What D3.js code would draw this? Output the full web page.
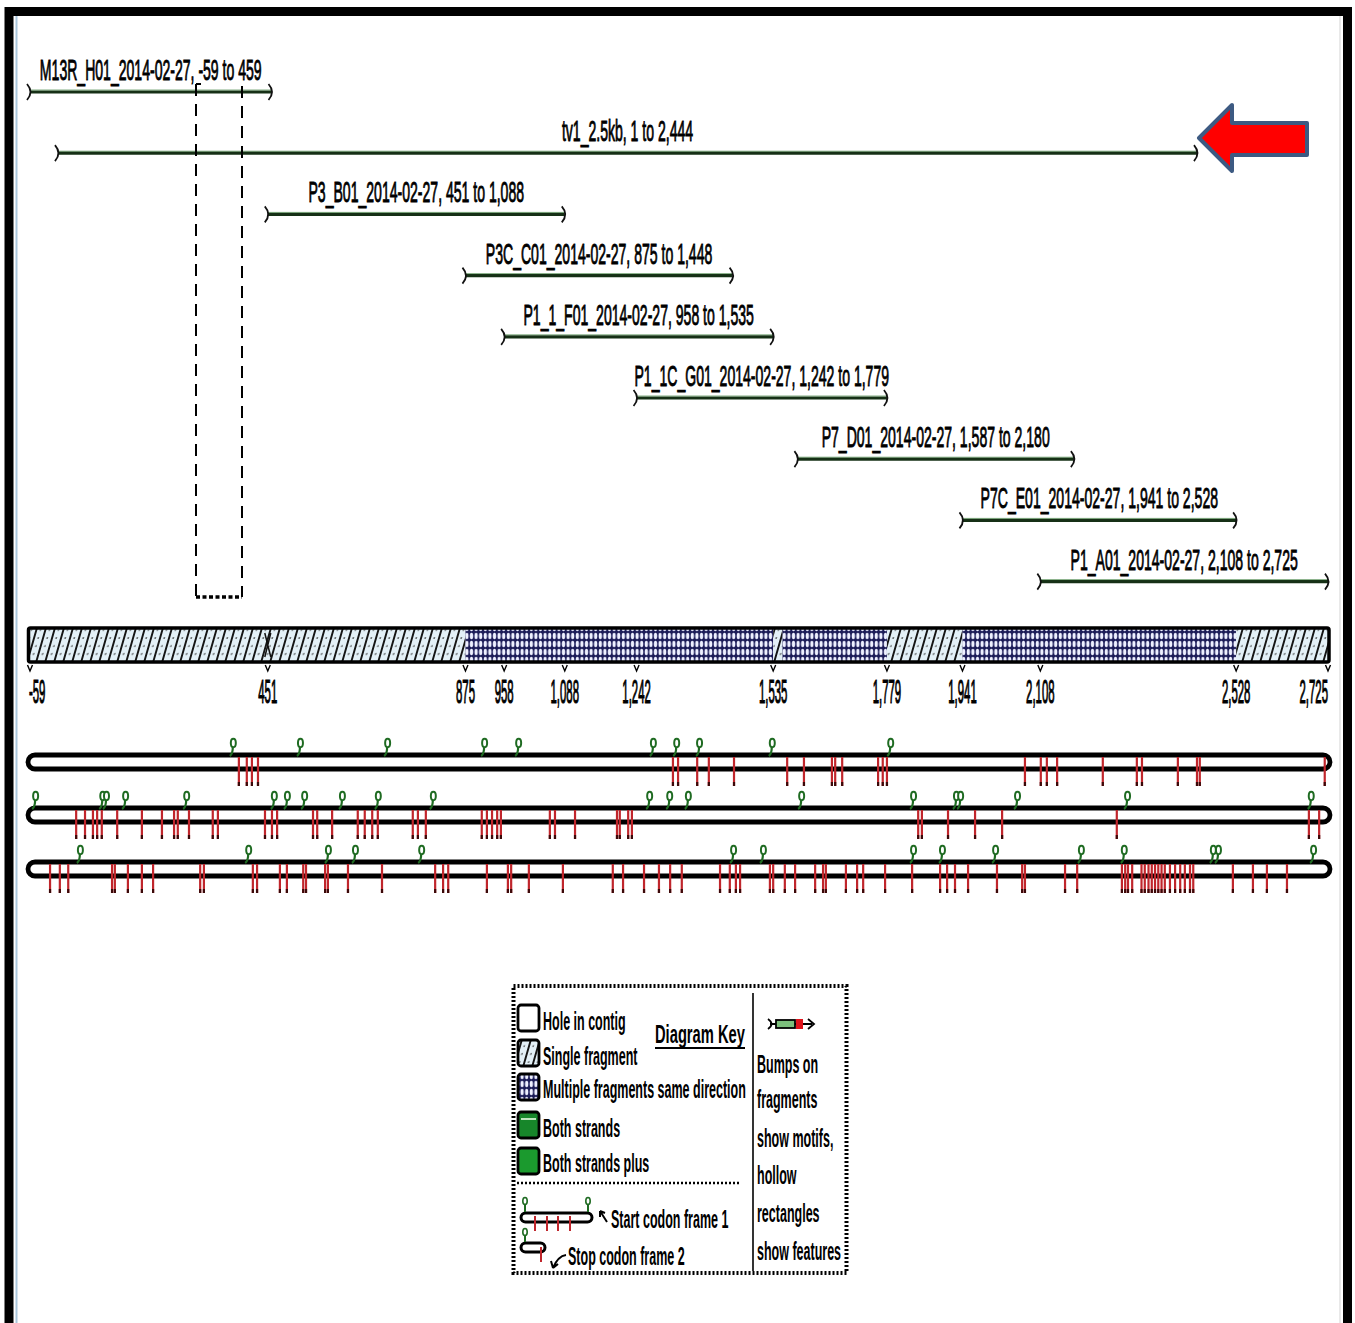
<!DOCTYPE html>
<html><head><meta charset="utf-8">
<script src="https://cdn.jsdelivr.net/npm/d3@7"></script>
<style>body{margin:0;background:#fff}svg{display:block}</style>
</head><body><svg id="c" width="1355" height="1323"></svg>
<script>
// ---------------- DATA ----------------
const fragLabels = [
  "M13R_H01_2014-02-27, -59 to 459",
  "tv1_2.5kb, 1 to 2,444",
  "P3_B01_2014-02-27, 451 to 1,088",
  "P3C_C01_2014-02-27, 875 to 1,448",
  "P1_1_F01_2014-02-27, 958 to 1,535",
  "P1_1C_G01_2014-02-27, 1,242 to 1,779",
  "P7_D01_2014-02-27, 1,587 to 2,180",
  "P7C_E01_2014-02-27, 1,941 to 2,528",
  "P1_A01_2014-02-27, 2,108 to 2,725"
];
const fragStart = [-59, 1, 451, 875, 958, 1242, 1587, 1941, 2108];
const fragEnd   = [459, 2444, 1088, 1448, 1535, 1779, 2180, 2528, 2725];

const covStart = [-59, 875, 1535, 1555, 1779, 1941, 2528];
const covEnd   = [875, 1535, 1555, 1779, 1941, 2528, 2725];
const covType  = ["single", "multi", "single", "multi", "single", "multi", "single"];

const tickValues = [-59, 451, 875, 958, 1088, 1242, 1535, 1779, 1941, 2108, 2528, 2725];
const tickLabels = ["-59", "451", "875", "958", "1,088", "1,242", "1,535", "1,779", "1,941", "2,108", "2,528", "2,725"];

const frame1Starts = [376, 520, 707, 915, 988, 1277, 1327, 1376, 1532, 1786];
const frame1Stops  = [389, 406, 417, 430, 1320, 1331, 1372, 1397, 1451, 1565, 1601, 1661, 1668, 1683,
                      1760, 1770, 1779, 2075, 2109, 2122, 2144, 2242, 2315, 2326, 2403, 2444, 2450, 2718];
const frame2Starts = [-48, 96, 104, 145, 276, 464, 492, 529, 610, 687, 805, 1269, 1312, 1352, 1595,
                      1835, 1927, 1936, 2058, 2294, 2688];
const frame2Stops  = [40, 59, 76, 85, 95, 128, 181, 224, 250, 258, 282, 333, 344, 445, 460, 471, 548, 557,
                      589, 644, 659, 675, 687, 762, 773, 790, 910, 921, 932, 943, 951, 1056, 1067, 1110,
                      1200, 1206, 1224, 1232, 1846, 1854, 1910, 1968, 2026, 2272, 2684, 2706];
const frame3Starts = [48, 409, 580, 638, 780, 1449, 1513, 1835, 1897, 2011, 2195, 2287, 2478, 2489, 2693];
const frame3Stops  = [-16, 5, 23, 117, 123, 151, 181, 205, 306, 314, 419, 428, 477, 492, 527, 533, 574, 580,
                      623, 696, 810, 827, 838, 921, 966, 973, 1011, 1084, 1191, 1213, 1258, 1290, 1314,
                      1339, 1421, 1442, 1455, 1464, 1528, 1535, 1560, 1582, 1625, 1642, 1648, 1691, 1715,
                      1728, 1775, 1833, 1893, 1908, 1925, 1953, 2015, 2069, 2075, 2161, 2187, 2283, 2290,
                      2296, 2305, 2325, 2332, 2340, 2347, 2354, 2361, 2368, 2375, 2386, 2397, 2408, 2418,
                      2429, 2436, 2521, 2564, 2594, 2637];

const legendLeft  = ["Hole in contig", "Single fragment", "Multiple fragments same direction", "Both strands", "Both strands plus"];
const legendRight = ["Bumps on", "fragments", "show motifs,", "hollow", "rectangles", "show features"];
const legendTitle = "Diagram Key";
const codonNotes  = ["Start codon frame 1", "Stop codon frame 2"];

// ---------------- SETUP ----------------
const svg = d3.select("#c");
const FONT = "'Liberation Sans Narrow','Liberation Sans',Arial,sans-serif";
const defs = svg.append("defs");

// single-fragment hatch
const ps = defs.append("pattern").attr("id", "single").attr("patternUnits", "userSpaceOnUse")
  .attr("width", 9).attr("height", 40).attr("patternTransform", "skewX(-16)");
ps.append("rect").attr("width", 9).attr("height", 40).attr("fill", "#e3f0f7");
ps.append("line").attr("x1", 1).attr("x2", 1).attr("y1", 0).attr("y2", 40).attr("stroke", "#151515").attr("stroke-width", 2);
[6, 14, 22, 30, 38].forEach(cy => ps.append("circle").attr("cx", 5.2).attr("cy", cy).attr("r", 0.8).attr("fill", "#333"));

// multiple-fragment crosshatch
const pm = defs.append("pattern").attr("id", "multi").attr("patternUnits", "userSpaceOnUse")
  .attr("width", 4.6).attr("height", 8);
pm.append("rect").attr("width", 4.6).attr("height", 8).attr("fill", "#1c1c58");
pm.append("ellipse").attr("cx", 2.3).attr("cy", 4).attr("rx", 1.6).attr("ry", 3.2).attr("fill", "#eef0ff");

function measure(str, size, weight) {
  const t = svg.append("text").attr("font-family", FONT).attr("font-size", size)
    .attr("font-weight", weight || "normal").text(str);
  const w = t.node().getComputedTextLength(); t.remove(); return w;
}
function ctext(parent, str, px, py, size, k, anchor, weight, sw) {
  const t = parent.append("text").attr("font-family", FONT).attr("font-size", size)
    .attr("font-weight", weight || "normal").attr("text-anchor", anchor || "start")
    .attr("fill", "#000")
    .attr("transform", `translate(${px},${py}) scale(${k},1)`).text(str);
  if (sw) t.attr("stroke", "#000").attr("stroke-width", sw);
  return t;
}

const x = d3.scaleLinear().domain([-59, 2725]).range([30, 1328]);

// ---------------- FRAME ----------------
svg.append("rect").attr("x", 0).attr("y", 0).attr("width", 1355).attr("height", 1323).attr("fill", "#fff");
svg.append("line").attr("x1", 16.5).attr("x2", 16.5).attr("y1", 16).attr("y2", 1323).attr("stroke", "#a9c6dc").attr("stroke-width", 2);
svg.append("line").attr("x1", 1340).attr("x2", 1340).attr("y1", 16).attr("y2", 1323).attr("stroke", "#e2e2e2").attr("stroke-width", 1.5);
svg.append("rect").attr("x", 9).attr("y", 11.5).attr("width", 1338.5).attr("height", 1400)
  .attr("fill", "none").attr("stroke", "#000").attr("stroke-width", 9);

// ---------------- FRAGMENTS ----------------
const gFrag = svg.append("g");
const fragSize = 29;
const kFrag = 222 / measure(fragLabels[0], fragSize);
const rowY = i => 92 + i * 61.2;
fragLabels.forEach((lab, i) => {
  const y = rowY(i), x0 = x(fragStart[i]), x1 = x(fragEnd[i]);
  gFrag.append("line").attr("x1", x0).attr("x2", x1).attr("y1", y).attr("y2", y)
    .attr("stroke", "#163016").attr("stroke-width", 3.2);
  gFrag.append("line").attr("x1", x0).attr("x2", x1).attr("y1", y - 2).attr("y2", y - 2)
    .attr("stroke", "#4f8a4f").attr("stroke-width", 1).attr("opacity", 0.7);
  [x0, x1].forEach(px => gFrag.append("path")
    .attr("d", `M${px - 3},${y - 8} Q${px + 4},${y} ${px - 3},${y + 8}`)
    .attr("fill", "none").attr("stroke", "#111").attr("stroke-width", 1.8));
  ctext(gFrag, lab, (x0 + x1) / 2, y - 12, fragSize, kFrag, "middle", "normal", 0.9);
});

// dashed selection box
const gBox = svg.append("g").attr("stroke", "#000").attr("fill", "none");
gBox.append("line").attr("x1", 196).attr("x2", 196).attr("y1", 84).attr("y2", 597)
  .attr("stroke-width", 2).attr("stroke-dasharray", "12,8");
gBox.append("line").attr("x1", 196).attr("x2", 201).attr("y1", 84).attr("y2", 84).attr("stroke-width", 2);
gBox.append("line").attr("x1", 242).attr("x2", 242).attr("y1", 86).attr("y2", 597)
  .attr("stroke-width", 2).attr("stroke-dasharray", "12,8");
gBox.append("line").attr("x1", 196).attr("x2", 242).attr("y1", 597).attr("y2", 597)
  .attr("stroke-width", 3.5).attr("stroke-dasharray", "4,2.5");

// red arrow
svg.append("path")
  .attr("d", "M1199,138 L1232,105 L1232,123 L1307,123 L1307,155 L1232,155 L1232,171 Z")
  .attr("fill", "#ff0000").attr("stroke", "#3d5a82").attr("stroke-width", 4).attr("stroke-linejoin", "round");

// ---------------- COVERAGE BAR ----------------
const gBar = svg.append("g");
covStart.forEach((s, i) => {
  gBar.append("rect").attr("x", x(s)).attr("y", 629).attr("width", x(covEnd[i]) - x(s)).attr("height", 32)
    .attr("fill", covType[i] === "single" ? "url(#single)" : "url(#multi)");
});
gBar.append("path").attr("d", `M${x(451) - 3},633 L${x(451) + 3},657 M${x(451) + 3},633 L${x(451) - 3},657`)
  .attr("stroke", "#111").attr("stroke-width", 1.5);
gBar.append("rect").attr("x", 28.5).attr("y", 628).attr("width", 1300.5).attr("height", 34).attr("rx", 2)
  .attr("fill", "none").attr("stroke", "#000").attr("stroke-width", 3.5);

// ticks & labels
const tickSize = 34;
const kTick = 19 / measure("451", tickSize);
tickValues.forEach((v, i) => {
  const px = x(v);
  gBar.append("path").attr("d", `M${px - 2.5},665 L${px},671 L${px + 2.5},665`)
    .attr("fill", "none").attr("stroke", "#000").attr("stroke-width", 1.4);
  const anchor = i === 0 ? "start" : (i === tickValues.length - 1 ? "end" : "middle");
  ctext(gBar, tickLabels[i], i === 0 ? px - 1 : px, 703, tickSize, kTick, "" + anchor, "normal", 1.2);
});

// ---------------- CODON TRACKS ----------------
const trackTop = [755, 808, 862];
const starts = [frame1Starts, frame2Starts, frame3Starts];
const stops = [frame1Stops, frame2Stops, frame3Stops];
const gCod = svg.append("g");
trackTop.forEach((top, r) => {
  gCod.append("rect").attr("x", 28).attr("y", top).attr("width", 1302).attr("height", 14).attr("rx", 7)
    .attr("fill", "#fff").attr("stroke", "#000").attr("stroke-width", 4.8);
  stops[r].forEach(v => {
    const px = x(v);
    gCod.append("line").attr("x1", px).attr("x2", px).attr("y1", top + 2).attr("y2", top + 31)
      .attr("stroke", "#c0262c").attr("stroke-width", 2.2);
    gCod.append("line").attr("x1", px).attr("x2", px).attr("y1", top + 27).attr("y2", top + 31)
      .attr("stroke", "#3a0909").attr("stroke-width", 2.2);
  });
  starts[r].forEach(v => {
    const px = x(v);
    gCod.append("path").attr("d", `M${px - 3},${top + 1} Q${px},${top - 1} ${px},${top - 8}`)
      .attr("fill", "none").attr("stroke", "#1f6b22").attr("stroke-width", 2.2);
    gCod.append("ellipse").attr("cx", px + 0.5).attr("cy", top - 12).attr("rx", 2.5).attr("ry", 4.2)
      .attr("fill", "#fff").attr("stroke", "#1f6b22").attr("stroke-width", 2);
  });
});

// ---------------- LEGEND ----------------
const gL = svg.append("g");
const legSize = 25;
const kLeg = 203 / measure(legendLeft[2], legSize, "bold");
gL.append("rect").attr("x", 513.5).attr("y", 986).attr("width", 333).attr("height", 287)
  .attr("fill", "#fff").attr("stroke", "#000").attr("stroke-width", 4).attr("stroke-dasharray", "2,2");
gL.append("line").attr("x1", 753).attr("x2", 753).attr("y1", 993).attr("y2", 1271)
  .attr("stroke", "#000").attr("stroke-width", 1.6);
gL.append("line").attr("x1", 517).attr("x2", 741).attr("y1", 1183).attr("y2", 1183)
  .attr("stroke", "#000").attr("stroke-width", 2.5).attr("stroke-dasharray", "2,2");

const iconY = [1005, 1040, 1074, 1112, 1148];
const iconFill = ["#fff", "url(#single)", "url(#multi)", "#17862a", "#1b9a2e"];
const textBase = [1030, 1065, 1098, 1137, 1172];
legendLeft.forEach((t, i) => {
  gL.append("rect").attr("x", 518).attr("y", iconY[i]).attr("width", 21).attr("height", 26).attr("rx", 3)
    .attr("fill", iconFill[i]).attr("stroke", "#000").attr("stroke-width", 2.8);
  if (i === 3) gL.append("line").attr("x1", 521).attr("x2", 536).attr("y1", iconY[i] + 7).attr("y2", iconY[i] + 7)
    .attr("stroke", "#bfe6bf").attr("stroke-width", 2);
  ctext(gL, t, 543, textBase[i], legSize, kLeg, "start", "bold");
});
const kTitle = 90 / measure(legendTitle, legSize, "bold");
ctext(gL, legendTitle, 655, 1043, legSize, kTitle, "start", "bold");
gL.append("line").attr("x1", 655).attr("x2", 745).attr("y1", 1048).attr("y2", 1048).attr("stroke", "#000").attr("stroke-width", 2);

const rightBase = [1073, 1108, 1147, 1184, 1222, 1260];
legendRight.forEach((t, i) => ctext(gL, t, 757, rightBase[i], legSize, kLeg, "start", "bold"));

// bump icon
gL.append("path").attr("d", "M768,1019 Q775,1024 768,1029").attr("fill", "none").attr("stroke", "#000").attr("stroke-width", 1.8);
gL.append("line").attr("x1", 770).attr("x2", 812).attr("y1", 1024).attr("y2", 1024).attr("stroke", "#000").attr("stroke-width", 2);
gL.append("rect").attr("x", 776).attr("y", 1020).attr("width", 19).attr("height", 8).attr("fill", "#7cbf7c").attr("stroke", "#000").attr("stroke-width", 1.8);
gL.append("rect").attr("x", 796).attr("y", 1019).attr("width", 7).attr("height", 10).attr("fill", "#e0141c");
gL.append("path").attr("d", "M808,1019 L814,1024 L808,1029").attr("fill", "none").attr("stroke", "#000").attr("stroke-width", 1.8);

// mini codon tracks
gL.append("rect").attr("x", 521).attr("y", 1213).attr("width", 71).attr("height", 9).attr("rx", 4.5)
  .attr("fill", "#fff").attr("stroke", "#000").attr("stroke-width", 3);
[535, 547, 558, 570].forEach(px => gL.append("line").attr("x1", px).attr("x2", px).attr("y1", 1216).attr("y2", 1231)
  .attr("stroke", "#c0262c").attr("stroke-width", 2));
[525, 588].forEach(px => {
  gL.append("line").attr("x1", px).attr("x2", px).attr("y1", 1212).attr("y2", 1205).attr("stroke", "#1f6b22").attr("stroke-width", 2);
  gL.append("ellipse").attr("cx", px).attr("cy", 1201).attr("rx", 2.2).attr("ry", 3.5).attr("fill", "#fff").attr("stroke", "#1f6b22").attr("stroke-width", 1.6);
});
gL.append("path").attr("d", "M607,1222 L600,1211 M600,1211 L600,1217 M600,1211 L605,1213")
  .attr("fill", "none").attr("stroke", "#000").attr("stroke-width", 2);
ctext(gL, codonNotes[0], 611, 1228, legSize, kLeg, "start", "bold");

gL.append("rect").attr("x", 521).attr("y", 1243).attr("width", 24).attr("height", 9).attr("rx", 4.5)
  .attr("fill", "#fff").attr("stroke", "#000").attr("stroke-width", 3);
gL.append("line").attr("x1", 541).attr("x2", 541).attr("y1", 1247).attr("y2", 1262).attr("stroke", "#c0262c").attr("stroke-width", 2);
gL.append("line").attr("x1", 525).attr("x2", 525).attr("y1", 1242).attr("y2", 1236).attr("stroke", "#1f6b22").attr("stroke-width", 2);
gL.append("ellipse").attr("cx", 525).attr("cy", 1232).attr("rx", 2.2).attr("ry", 3.5).attr("fill", "#fff").attr("stroke", "#1f6b22").attr("stroke-width", 1.6);
gL.append("path").attr("d", "M566,1255 Q558,1256 553,1268 M553,1268 L551,1261 M553,1268 L558,1264")
  .attr("fill", "none").attr("stroke", "#000").attr("stroke-width", 2);
ctext(gL, codonNotes[1], 568, 1265, legSize, kLeg, "start", "bold");
</script>
</body></html>
